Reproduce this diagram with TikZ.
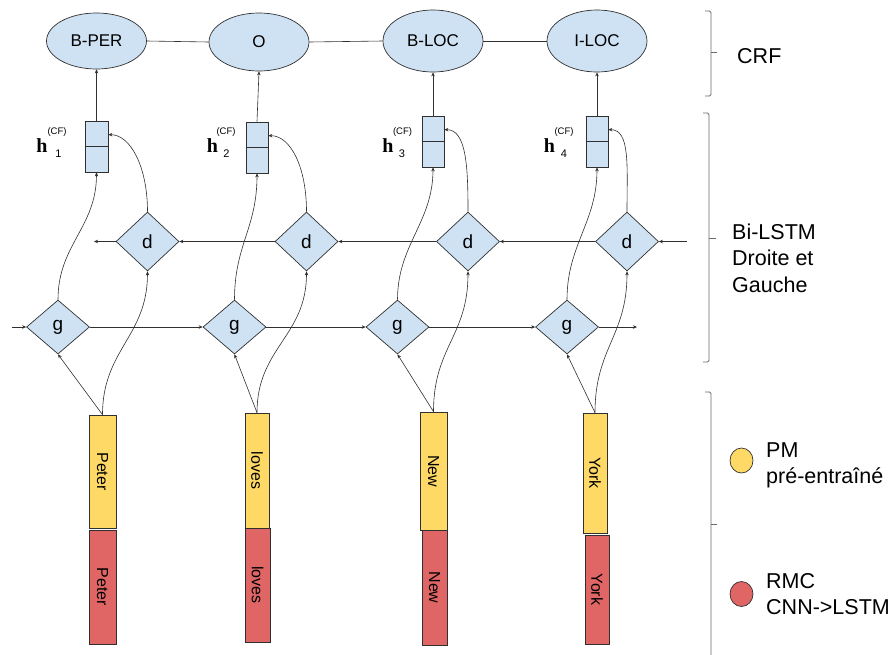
\documentclass[tikz,border=0pt]{standalone}
\usepackage{fontspec}
\setmainfont{Liberation Sans}
\newfontfamily\hserif{Liberation Serif}
\usetikzlibrary{shapes.geometric,arrows.meta}
\definecolor{cellblue}{HTML}{CFE2F3}
\definecolor{pmyellow}{HTML}{FFD966}
\definecolor{rmcred}{HTML}{E06666}
\definecolor{edge}{HTML}{303030}
\definecolor{brk}{HTML}{6A6A6A}
\begin{document}
\begin{tikzpicture}[x=1pt,y=-1pt,
  tag/.style={ellipse,draw=edge,fill=cellblue,minimum width=100pt,inner sep=0pt,line width=0.7pt,font=\fontsize{17}{20}\selectfont},
  hcell/.style={rectangle,draw=edge,fill=cellblue,minimum width=22pt,minimum height=51pt,inner sep=0pt,line width=0.7pt},
  gate/.style={diamond,draw=edge,fill=cellblue,inner sep=0pt,minimum width=63pt,line width=0.7pt,font=\fontsize{19}{22}\selectfont},
  wordbar/.style={rectangle,draw=edge,inner sep=0pt,line width=0.7pt,font=\fontsize{16}{18}\selectfont},
  arr/.style={draw=edge,line width=0.6pt,-{Stealth[length=4pt,width=3.5pt]}},
  link/.style={draw=edge,line width=0.6pt},
  brace/.style={draw=brk,line width=0.8pt},
  side/.style={anchor=base west,inner sep=0pt,font=\fontsize{21.5}{26}\selectfont},
  hmain/.style={anchor=base,inner sep=0pt,font=\hserif\bfseries\fontsize{20}{22}\selectfont},
  hsub/.style={anchor=base,inner sep=0pt,font=\fontsize{11}{12}\selectfont},
  hsup/.style={anchor=base,inner sep=0pt,font=\fontsize{9.5}{11}\selectfont},
  dot/.style={ellipse,draw=edge,line width=0.7pt,minimum width=23pt,minimum height=25pt,inner sep=0pt}
]
\useasboundingbox (0,0) rectangle (896,654);

% CRF tags
\node[tag,minimum height=56pt] (e1) at (96.5,41) {B-PER};
\node[tag,minimum height=58pt] (e2) at (259,42) {O};
\node[tag,minimum height=62pt] (e3) at (433,41) {B-LOC};
\node[tag,minimum height=62pt] (e4) at (597,41) {I-LOC};
\draw[link] (e1.east) -- (e2.west);
\draw[link] (e2.east) -- (e3.west);
\draw[link] (e3.east) -- (e4.west);

% concatenated hidden states
\node[hcell,minimum width=23pt] (h1) at (96.5,146.5) {};
\node[hcell] (h2) at (257,147.5) {};
\node[hcell] (h3) at (433,141.5) {};
\node[hcell] (h4) at (597,141.5) {};
\foreach \i in {1,...,4} {
  \draw[link] (h\i.west) -- (h\i.east);
  \draw[arr] (h\i.north) -- (e\i.south);
}

% h labels
\node[hmain] (hl1) at (42,152) {h};
\node[hsub] (hs1) at (58.5,157) {1};
\node[hsup] (hc1) at (57,134) {(CF)};
\node[hmain] (hl2) at (212.5,152) {h};
\node[hsub] (hs2) at (226.5,157) {2};
\node[hsup] (hc2) at (226,134) {(CF)};
\node[hmain] (hl3) at (388,152) {h};
\node[hsub] (hs3) at (402,157) {3};
\node[hsup] (hc3) at (402.5,134) {(CF)};
\node[hmain] (hl4) at (549.5,152) {h};
\node[hsub] (hs4) at (564,157) {4};
\node[hsup] (hc4) at (564,134) {(CF)};

% right-to-left cells
\node[gate,minimum height=59pt] (d1) at (147.5,241.5) {d};
\node[gate,minimum height=59pt] (d2) at (306.5,241.5) {d};
\node[gate,minimum height=59pt] (d3) at (468,241.5) {d};
\node[gate,minimum height=59pt] (d4) at (627,241.5) {d};

% left-to-right cells
\node[gate,minimum height=54pt] (g1) at (58,327) {g};
\node[gate,minimum height=54pt] (g2) at (234.5,327) {g};
\node[gate,minimum height=54pt] (g3) at (397.5,327) {g};
\node[gate,minimum height=54pt] (g4) at (567,327) {g};

% recurrent chains
\coordinate (gin) at (12,327);
\coordinate (gout) at (637,327);
\draw[arr] (gin) -- (g1.west);
\foreach \i/\j in {1/2,2/3,3/4} \draw[arr] (g\i.east) -- (g\j.west);
\draw[arr] (g4.east) -- (gout);
\coordinate (din) at (687,241.5);
\coordinate (dout) at (94,241.5);
\draw[arr] (din) -- (d4.east);
\foreach \i/\j in {4/3,3/2,2/1} \draw[arr] (d\i.west) -- (d\j.east);
\draw[arr] (d1.west) -- (dout);

% word embeddings
\node[wordbar,fill=pmyellow,minimum width=27pt,minimum height=113pt] (w1) at (102.5,471.5) {\rotatebox{-90}{Peter}};
\node[wordbar,fill=rmcred,minimum width=27pt,minimum height=114pt] (r1) at (102.5,587) {\rotatebox{-90}{Peter}};
\node[wordbar,fill=pmyellow,minimum width=24pt,minimum height=115pt] (w2) at (257,470.5) {\rotatebox{-90}{loves}};
\node[wordbar,fill=rmcred,minimum width=25pt,minimum height=114pt] (r2) at (257.5,585) {\rotatebox{-90}{loves}};
\node[wordbar,fill=pmyellow,minimum width=27pt,minimum height=118pt] (w3) at (433.5,471) {\rotatebox{-90}{New}};
\node[wordbar,fill=rmcred,minimum width=25pt,minimum height=115pt] (r3) at (434.5,587.5) {\rotatebox{-90}{New}};
\node[wordbar,fill=pmyellow,minimum width=24pt,minimum height=120pt] (w4) at (595,473) {\rotatebox{-90}{York}};
\node[wordbar,fill=rmcred,minimum width=24pt,minimum height=109pt] (r4) at (597,589.5) {\rotatebox{-90}{York}};

% feeding the cells and collecting their outputs
\foreach \i in {1,...,4} {
  \draw[arr] (w\i.north) -- (g\i.south);
  \draw[arr] (w\i.north) .. controls +(0,-65) and +(0,65) .. (d\i.south);
  \draw[arr] (g\i.north) .. controls +(0,-55) and +(0,55) .. (h\i.south);
  \draw[arr] (d\i.north) .. controls +(0,-45) and +(22,0) .. ([yshift=-14pt]h\i.north east);
}

% layer brackets
\draw[brace,rounded corners=1.5pt] (705,11) -- (711,11) -- (711,96) -- (705,96);
\draw[brace] (711,52) -- (717,52);
\draw[brace,rounded corners=1.5pt] (703,113) -- (709,113) -- (709,362) -- (703,362);
\draw[brace] (709,238) -- (716,238);
\draw[brace,rounded corners=1.5pt] (705,392) -- (711,392) -- (711,660);
\draw[brace] (711,524) -- (717,524);

% layer names
\node[side] (crf) at (737,63) {CRF};
\node[side] (bi1) at (732,239) {Bi-LSTM};
\node[side] (bi2) at (732,265.5) {Droite et};
\node[side] (bi3) at (732,292) {Gauche};

% legend
\node[dot,fill=pmyellow] (k1) at (741.5,460.5) {};
\node[side] (pm1) at (766,457) {PM};
\node[side] (pm2) at (766,483) {pré-entraîné};
\node[dot,fill=rmcred] (k2) at (741.5,594) {};
\node[side] (rm1) at (766,588) {RMC};
\node[side] (rm2) at (766,614) {CNN->LSTM};
\end{tikzpicture}
\end{document}
